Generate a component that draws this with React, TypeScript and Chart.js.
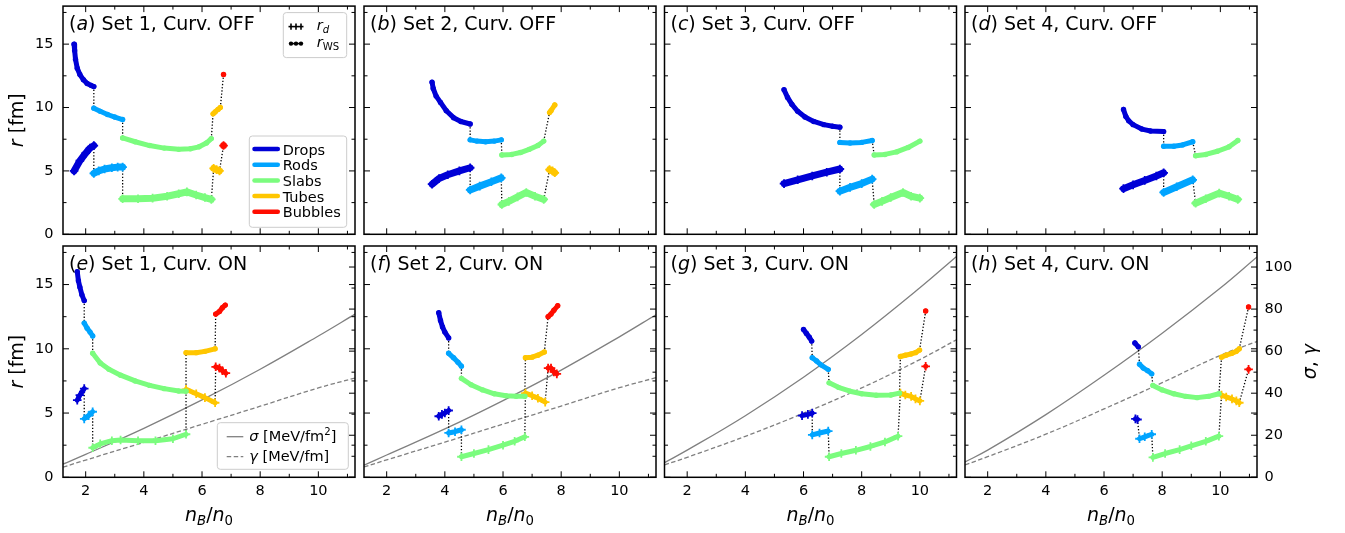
import React, { useEffect, useRef } from 'react';
import { Chart, registerables } from 'chart.js';

Chart.register(...registerables);

type Pt = [number, number];
type Run = { t: string; it?: boolean; sub?: boolean; sup?: boolean };

const W = 1345;
const H = 533;
const FONT = '"DejaVu Sans"';

const PHASES = ['Drops', 'Rods', 'Slabs', 'Tubes', 'Bubbles'];
const PHASE_COLORS = ['#0000d6', '#00a4ff', '#7bfc7e', '#ffc600', '#ff0d00'];

const X_RANGE: Pt = [1.22, 11.26];
const R_RANGE: Pt = [0, 18];
const S_RANGE: Pt = [0, 110];
const X_MAJOR = [2, 4, 6, 8, 10];
const X_MINOR = [3, 5, 7, 9, 11];
const R_MAJOR = [0, 5, 10, 15];
const R_MINOR = [2.5, 7.5, 12.5, 17.5];
const S_MAJOR = [0, 20, 40, 60, 80, 100];
const S_MINOR = [10, 30, 50, 70, 90];

// Radii [fm] vs n_B/n_0, one segment per pasta phase (Drops, Rods, Slabs, Tubes, Bubbles)
// Set 1, curvature off
const A_WS: Pt[][] = [
  [[1.6, 15.0], [1.62, 14.5], [1.65, 13.8], [1.71, 13.1], [1.8, 12.6], [1.92, 12.2], [2.05, 11.9], [2.18, 11.75], [2.28, 11.65]],
  [[2.28, 9.95], [2.5, 9.7], [2.75, 9.45], [3.0, 9.25], [3.27, 9.05]],
  [[3.27, 7.6], [3.7, 7.3], [4.2, 7.0], [4.7, 6.8], [5.2, 6.7], [5.6, 6.75], [5.9, 6.9], [6.15, 7.2], [6.32, 7.55]],
  [[6.38, 9.5], [6.45, 9.65], [6.55, 9.85], [6.63, 10.0]],
  [[6.74, 12.6]],
];
const A_RD: Pt[][] = [
  [[1.6, 5.0], [1.8, 5.8], [2.0, 6.4], [2.15, 6.8], [2.28, 7.0]],
  [[2.28, 4.8], [2.45, 5.0], [2.65, 5.15], [2.9, 5.25], [3.1, 5.3], [3.27, 5.3]],
  [[3.27, 2.8], [3.8, 2.8], [4.3, 2.85], [4.8, 3.0], [5.2, 3.2], [5.48, 3.35], [5.8, 3.1], [6.1, 2.9], [6.32, 2.75]],
  [[6.4, 5.2], [6.5, 5.1], [6.6, 5.0]],
  [[6.74, 7.0]],
];
// Set 2, curvature off
const B_WS: Pt[][] = [
  [[3.56, 12.0], [3.6, 11.5], [3.7, 10.9], [3.85, 10.4], [4.05, 9.75], [4.3, 9.2], [4.55, 8.9], [4.87, 8.7]],
  [[4.87, 7.45], [5.1, 7.35], [5.4, 7.3], [5.7, 7.35], [5.94, 7.45]],
  [[5.96, 6.25], [6.3, 6.3], [6.6, 6.45], [6.9, 6.7], [7.2, 7.0], [7.4, 7.35]],
  [[7.6, 9.6], [7.65, 9.75], [7.78, 10.2]],
];
const B_RD: Pt[][] = [
  [[3.56, 3.95], [3.8, 4.4], [4.1, 4.7], [4.5, 5.0], [4.87, 5.25]],
  [[4.87, 3.5], [5.2, 3.8], [5.6, 4.15], [5.94, 4.45]],
  [[5.96, 2.35], [6.2, 2.6], [6.5, 2.95], [6.8, 3.3], [7.1, 3.0], [7.4, 2.75]],
  [[7.6, 5.1], [7.7, 5.0], [7.78, 4.85]],
];
// Set 3, curvature off
const C_WS: Pt[][] = [
  [[5.33, 11.4], [5.45, 10.8], [5.6, 10.25], [5.8, 9.7], [6.05, 9.25], [6.35, 8.9], [6.7, 8.65], [7.0, 8.52], [7.25, 8.45]],
  [[7.25, 7.25], [7.6, 7.2], [8.0, 7.25], [8.36, 7.4]],
  [[8.43, 6.25], [8.8, 6.3], [9.2, 6.5], [9.6, 6.85], [10.0, 7.35]],
];
const C_RD: Pt[][] = [
  [[5.33, 4.0], [5.8, 4.3], [6.3, 4.6], [6.8, 4.9], [7.25, 5.15]],
  [[7.25, 3.4], [7.6, 3.7], [8.0, 4.0], [8.36, 4.35]],
  [[8.43, 2.35], [8.7, 2.6], [9.0, 2.9], [9.42, 3.3], [9.7, 3.0], [10.0, 2.85]],
];
// Set 4, curvature off
const D_WS: Pt[][] = [
  [[6.67, 9.85], [6.75, 9.3], [6.85, 8.95], [7.0, 8.65], [7.3, 8.3], [7.6, 8.15], [8.05, 8.1]],
  [[8.05, 6.95], [8.4, 6.95], [8.7, 7.05], [9.05, 7.3]],
  [[9.15, 6.2], [9.5, 6.3], [9.9, 6.55], [10.3, 6.9], [10.6, 7.4]],
];
const D_RD: Pt[][] = [
  [[6.67, 3.6], [7.0, 3.9], [7.4, 4.25], [7.8, 4.6], [8.05, 4.85]],
  [[8.05, 3.3], [8.5, 3.75], [9.05, 4.3]],
  [[9.15, 2.45], [9.5, 2.8], [9.96, 3.25], [10.3, 3.0], [10.6, 2.75]],
];
// Set 1, curvature on
const E_WS: Pt[][] = [
  [[1.71, 16.0], [1.75, 15.3], [1.8, 14.8], [1.87, 14.2], [1.95, 13.75]],
  [[1.95, 12.0], [2.05, 11.6], [2.15, 11.3], [2.24, 11.0]],
  [[2.24, 9.65], [2.5, 8.9], [2.8, 8.4], [3.2, 7.95], [3.7, 7.5], [4.2, 7.15], [4.7, 6.9], [5.2, 6.72], [5.45, 6.7]],
  [[5.45, 9.7], [5.8, 9.7], [6.1, 9.8], [6.45, 10.0]],
  [[6.47, 12.7], [6.6, 12.9], [6.7, 13.2], [6.8, 13.4]],
];
const E_RD: Pt[][] = [
  [[1.71, 6.0], [1.8, 6.4], [1.95, 6.9]],
  [[1.95, 4.55], [2.1, 4.8], [2.24, 5.1]],
  [[2.24, 2.3], [2.5, 2.6], [2.9, 2.85], [3.2, 2.9], [3.8, 2.85], [4.4, 2.85], [5.0, 3.0], [5.45, 3.35]],
  [[5.45, 6.85], [5.8, 6.5], [6.1, 6.2], [6.45, 5.8]],
  [[6.47, 8.6], [6.6, 8.5], [6.7, 8.3], [6.82, 8.1]],
];
// Set 2, curvature on
const F_WS: Pt[][] = [
  [[3.79, 12.8], [3.85, 12.2], [3.92, 11.7], [4.0, 11.3], [4.13, 10.85]],
  [[4.13, 9.65], [4.3, 9.3], [4.45, 8.95], [4.57, 8.65]],
  [[4.57, 7.7], [4.9, 7.2], [5.3, 6.8], [5.7, 6.5], [6.1, 6.35], [6.45, 6.3], [6.75, 6.3]],
  [[6.77, 9.3], [7.0, 9.35], [7.2, 9.5], [7.42, 9.75]],
  [[7.55, 12.5], [7.65, 12.7], [7.75, 13.0], [7.88, 13.35]],
];
const F_RD: Pt[][] = [
  [[3.79, 4.75], [3.9, 4.9], [4.0, 5.0], [4.13, 5.2]],
  [[4.13, 3.45], [4.35, 3.55], [4.57, 3.7]],
  [[4.57, 1.6], [5.0, 1.85], [5.5, 2.15], [6.0, 2.5], [6.4, 2.8], [6.75, 3.15]],
  [[6.77, 6.55], [7.0, 6.35], [7.2, 6.15], [7.45, 5.85]],
  [[7.55, 8.5], [7.65, 8.5], [7.75, 8.2], [7.85, 8.05]],
];
// Set 3, curvature on
const G_WS: Pt[][] = [
  [[6.0, 11.5], [6.1, 11.2], [6.2, 10.9], [6.28, 10.6]],
  [[6.3, 9.3], [6.45, 9.05], [6.6, 8.75], [6.85, 8.4]],
  [[6.88, 7.35], [7.2, 7.0], [7.6, 6.7], [8.0, 6.5], [8.5, 6.38], [9.0, 6.4], [9.3, 6.55]],
  [[9.33, 9.4], [9.5, 9.5], [9.7, 9.6], [9.85, 9.7], [9.99, 9.9]],
  [[10.2, 12.94]],
];
const G_RD: Pt[][] = [
  [[5.95, 4.8], [6.15, 4.9], [6.3, 5.0]],
  [[6.3, 3.3], [6.55, 3.45], [6.85, 3.6]],
  [[6.88, 1.6], [7.3, 1.85], [7.8, 2.1], [8.3, 2.4], [8.8, 2.75], [9.25, 3.2]],
  [[9.33, 6.55], [9.5, 6.4], [9.7, 6.3], [9.85, 6.1], [10.0, 5.95]],
  [[10.2, 8.64]],
];
// Set 4, curvature on
const H_WS: Pt[][] = [
  [[7.06, 10.45], [7.18, 10.15]],
  [[7.22, 8.8], [7.35, 8.5], [7.5, 8.3], [7.64, 8.05]],
  [[7.68, 7.15], [8.0, 6.8], [8.4, 6.5], [8.8, 6.3], [9.2, 6.2], [9.6, 6.3], [9.95, 6.5]],
  [[10.04, 9.35], [10.2, 9.5], [10.4, 9.65], [10.55, 9.8], [10.65, 10.0]],
  [[10.97, 13.25]],
];
const H_RD: Pt[][] = [
  [[7.08, 4.55], [7.15, 4.5]],
  [[7.22, 3.0], [7.4, 3.15], [7.64, 3.35]],
  [[7.68, 1.55], [8.1, 1.85], [8.6, 2.15], [9.0, 2.45], [9.5, 2.8], [9.95, 3.2]],
  [[10.04, 6.4], [10.2, 6.25], [10.4, 6.1], [10.55, 5.95], [10.65, 5.8]],
  [[10.97, 8.4]],
];

// Surface tension sigma [MeV/fm^2] and curvature tension gamma [MeV/fm] vs n_B/n_0
const N_GRID = [1.22, 2, 4, 6, 8, 10, 11.26];
const SIGMA_SET1 = [6.3, 10.9, 23.3, 36.8, 51.4, 67.2, 77.6];
const GAMMA_SET1 = [4.8, 8.2, 16.6, 25.2, 33.8, 42.5, 47.2];
const SIGMA_SET2 = [5.8, 10.6, 23.0, 36.5, 51.0, 66.8, 77.3];
const GAMMA_SET2 = [4.9, 8.3, 16.7, 25.3, 33.9, 42.6, 47.4];
const SIGMA_SET3 = [7.0, 12.9, 29.3, 47.6, 67.9, 90.1, 105.0];
const GAMMA_SET3 = [5.9, 9.5, 19.5, 30.5, 42.5, 56.0, 65.4];
const SIGMA_SET4 = [7.3, 12.9, 29.8, 48.5, 68.5, 90.0, 104.8];
const GAMMA_SET4 = [5.9, 9.8, 20.5, 32.5, 45.0, 58.0, 64.6];

type Panel = {
  tag: string;
  set: number;
  on: boolean;
  ws: Pt[][];
  rd: Pt[][];
  sigma?: number[];
  gamma?: number[];
};

const PANELS: Panel[] = [
  { tag: 'a', set: 1, on: false, ws: A_WS, rd: A_RD },
  { tag: 'b', set: 2, on: false, ws: B_WS, rd: B_RD },
  { tag: 'c', set: 3, on: false, ws: C_WS, rd: C_RD },
  { tag: 'd', set: 4, on: false, ws: D_WS, rd: D_RD },
  { tag: 'e', set: 1, on: true, ws: E_WS, rd: E_RD, sigma: SIGMA_SET1, gamma: GAMMA_SET1 },
  { tag: 'f', set: 2, on: true, ws: F_WS, rd: F_RD, sigma: SIGMA_SET2, gamma: GAMMA_SET2 },
  { tag: 'g', set: 3, on: true, ws: G_WS, rd: G_RD, sigma: SIGMA_SET3, gamma: GAMMA_SET3 },
  { tag: 'h', set: 4, on: true, ws: H_WS, rd: H_RD, sigma: SIGMA_SET4, gamma: GAMMA_SET4 },
];

// Figure grid: plot-area edges in page pixels
const COL_LEFT = [63, 364, 664.5, 965];
const PANEL_W = 292;
const ROW_TOP = [3.5, 246];
const ROW_BOTTOM = [234.3, 477.3];

const runFont = (r: Run, size: number) =>
  `${r.it ? 'italic ' : ''}${r.sub || r.sup ? size * 0.7 : size}px ${FONT}`;

function drawRuns(
  ctx: CanvasRenderingContext2D,
  runs: Run[],
  x: number,
  y: number,
  size: number,
  align: 'left' | 'center' | 'right' = 'left'
) {
  ctx.textAlign = 'left';
  ctx.textBaseline = 'alphabetic';
  let total = 0;
  const widths = runs.map((r) => {
    ctx.font = runFont(r, size);
    const w = ctx.measureText(r.t).width;
    total += w;
    return w;
  });
  let cx = align === 'center' ? x - total / 2 : align === 'right' ? x - total : x;
  runs.forEach((r, i) => {
    ctx.font = runFont(r, size);
    const dy = r.sub ? 0.22 * size : r.sup ? -0.42 * size : 0;
    ctx.fillText(r.t, cx, y + dy);
    cx += widths[i];
  });
}

function roundBox(ctx: CanvasRenderingContext2D, x: number, y: number, w: number, h: number) {
  ctx.beginPath();
  ctx.roundRect(x, y, w, h, 3);
  ctx.fillStyle = 'rgba(255,255,255,0.85)';
  ctx.fill();
  ctx.strokeStyle = '#cccccc';
  ctx.lineWidth = 1;
  ctx.stroke();
}

function line(ctx: CanvasRenderingContext2D, x1: number, y1: number, x2: number, y2: number) {
  ctx.beginPath();
  ctx.moveTo(x1, y1);
  ctx.lineTo(x2, y2);
  ctx.stroke();
}

function makeDecor(p: Panel, row: number, col: number) {
  return {
    id: 'decor',
    // axes are fitted with zero thickness so the plot area is fixed; widen their
    // boxes afterwards so the tick labels are not clipped away
    afterLayout(chart: any) {
      const { x, y, y2 } = chart.scales;
      y.left = y.right - 80;
      y.width = 80;
      if (y2) {
        y2.right = y2.left + 80;
        y2.width = 80;
      }
      x.bottom = x.top + 40;
      x.height = 40;
    },
    afterDraw(chart: any) {
      const ctx: CanvasRenderingContext2D = chart.ctx;
      const a = chart.chartArea;
      const xs = chart.scales.x;
      const ys = chart.scales.y;
      const s2 = chart.scales.y2;
      ctx.save();
      ctx.strokeStyle = '#000';
      ctx.fillStyle = '#000';
      ctx.lineWidth = 1;
      ctx.setLineDash([]);
      const MAJ = 6;
      const MIN = 3.5;
      const xTick = (v: number, len: number) => {
        const px = xs.getPixelForValue(v);
        line(ctx, px, a.bottom, px, a.bottom - len);
        line(ctx, px, a.top, px, a.top + len);
      };
      X_MAJOR.forEach((v) => xTick(v, MAJ));
      X_MINOR.forEach((v) => xTick(v, MIN));
      const rTick = (v: number, len: number) => {
        const py = ys.getPixelForValue(v);
        line(ctx, a.left, py, a.left + len, py);
        line(ctx, a.right, py, a.right - len, py);
      };
      R_MAJOR.forEach((v) => rTick(v, MAJ));
      R_MINOR.forEach((v) => rTick(v, MIN));
      if (s2) {
        const sTick = (v: number, len: number) => {
          const py = s2.getPixelForValue(v);
          line(ctx, a.right, py, a.right - len, py);
        };
        S_MAJOR.forEach((v) => sTick(v, MAJ));
        S_MINOR.forEach((v) => sTick(v, MIN));
      }
      ctx.lineWidth = 1.5;
      ctx.strokeRect(a.left, a.top, a.right - a.left, a.bottom - a.top);

      // panel title
      ctx.fillStyle = '#000';
      drawRuns(
        ctx,
        [{ t: '(' }, { t: p.tag, it: true }, { t: `) Set ${p.set}, Curv. ${p.on ? 'ON' : 'OFF'}` }],
        a.left + 6,
        a.top + 23.5,
        19
      );

      // axis titles
      if (col === 0) {
        ctx.save();
        ctx.translate(a.left - 40, (a.top + a.bottom) / 2);
        ctx.rotate(-Math.PI / 2);
        drawRuns(ctx, [{ t: 'r', it: true }, { t: ' [fm]' }], 0, 0, 19, 'center');
        ctx.restore();
      }
      if (row === 1) {
        drawRuns(
          ctx,
          [{ t: 'n', it: true }, { t: 'B', it: true, sub: true }, { t: '/' }, { t: 'n', it: true }, { t: '0', sub: true }],
          (a.left + a.right) / 2,
          a.bottom + 43.7,
          19,
          'center'
        );
      }
      if (row === 1 && col === 3) {
        ctx.save();
        ctx.translate(a.right + 59, (a.top + a.bottom) / 2);
        ctx.rotate(-Math.PI / 2);
        drawRuns(ctx, [{ t: 'σ', it: true }, { t: ', ' }, { t: 'γ', it: true }], 0, 0, 19, 'center');
        ctx.restore();
      }

      // legends
      if (row === 0 && col === 0) {
        roundBox(ctx, a.right - 71.7, a.top + 6.5, 63.4, 45);
        const mx = [a.right - 64, a.right - 59, a.right - 54];
        let cy = a.top + 20.5;
        ctx.strokeStyle = '#000';
        ctx.lineWidth = 1.6;
        line(ctx, mx[0] - 2.5, cy, mx[2] + 2.5, cy);
        mx.forEach((x) => line(ctx, x, cy - 3.2, x, cy + 3.2));
        ctx.fillStyle = '#000';
        drawRuns(ctx, [{ t: 'r', it: true }, { t: 'd', it: true, sub: true }], a.right - 38.3, cy + 3.5, 14.5);
        cy = a.top + 37.5;
        mx.forEach((x) => {
          ctx.beginPath();
          ctx.arc(x, cy, 2.2, 0, Math.PI * 2);
          ctx.fill();
        });
        line(ctx, mx[0], cy, mx[2], cy);
        drawRuns(ctx, [{ t: 'r', it: true }, { t: 'WS', sub: true }], a.right - 38.3, cy + 3.5, 14.5);

        roundBox(ctx, a.right - 105.7, a.bottom - 98.3, 97.4, 91.3);
        PHASES.forEach((name, i) => {
          const y = a.bottom - 85.3 + i * 15.7;
          ctx.strokeStyle = PHASE_COLORS[i];
          ctx.lineWidth = 4.5;
          ctx.lineCap = 'round';
          line(ctx, a.right - 100.5, y, a.right - 77.2, y);
          ctx.lineCap = 'butt';
          ctx.fillStyle = '#000';
          drawRuns(ctx, [{ t: name }], a.right - 72.3, y + 5.5, 14.5);
        });
      }
      if (row === 1 && col === 0) {
        roundBox(ctx, a.right - 137.7, a.bottom - 54.6, 131, 46.6);
        ctx.strokeStyle = '#808080';
        ctx.lineWidth = 1.3;
        let y = a.bottom - 40.6;
        line(ctx, a.right - 128.3, y, a.right - 111.7, y);
        ctx.fillStyle = '#000';
        drawRuns(
          ctx,
          [{ t: 'σ', it: true }, { t: ' [MeV/fm' }, { t: '2', sup: true }, { t: ']' }],
          a.right - 105.7,
          y + 4,
          14.5
        );
        y = a.bottom - 20.6;
        ctx.setLineDash([4.5, 2.5]);
        line(ctx, a.right - 128.3, y, a.right - 111.7, y);
        ctx.setLineDash([]);
        drawRuns(ctx, [{ t: 'γ', it: true }, { t: ' [MeV/fm]' }], a.right - 105.7, y + 4, 14.5);
      }
      ctx.restore();
    },
  };
}

function buildDatasets(p: Panel) {
  const ds: any[] = [];
  const addSeries = (segs: Pt[][], kind: 'ws' | 'rd') => {
    segs.forEach((seg, i) => {
      const color = PHASE_COLORS[i];
      ds.push({
        label: `${PHASES[i]} ${kind === 'ws' ? 'r_WS' : 'r_d'}`,
        data: seg.map(([x, y]) => ({ x, y })),
        showLine: true,
        borderColor: color,
        backgroundColor: color,
        borderWidth: kind === 'ws' ? 5 : p.on ? 5 : 7,
        borderCapStyle: 'round',
        borderJoinStyle: 'round',
        pointStyle: kind === 'ws' ? 'circle' : 'cross',
        pointRadius: kind === 'ws' ? 2.7 : 4.3,
        pointBorderWidth: kind === 'ws' ? 0 : 1.8,
        pointBorderColor: color,
        pointBackgroundColor: color,
        yAxisID: 'y',
        order: 0,
      });
      if (i > 0) {
        const prev = segs[i - 1][segs[i - 1].length - 1];
        const first = seg[0];
        ds.push({
          label: 'transition',
          data: [
            { x: prev[0], y: prev[1] },
            { x: first[0], y: first[1] },
          ],
          showLine: true,
          borderColor: '#000',
          borderWidth: 1.3,
          borderDash: [1.3, 1.9],
          pointRadius: 0,
          yAxisID: 'y',
          order: 5,
        });
      }
    });
  };
  addSeries(p.ws, 'ws');
  addSeries(p.rd, 'rd');
  if (p.sigma && p.gamma) {
    ds.push({
      label: 'sigma',
      data: N_GRID.map((x, i) => ({ x, y: p.sigma![i] })),
      showLine: true,
      borderColor: '#808080',
      borderWidth: 1.3,
      pointRadius: 0,
      tension: 0.4,
      yAxisID: 'y2',
      order: 10,
    });
    ds.push({
      label: 'gamma',
      data: N_GRID.map((x, i) => ({ x, y: p.gamma![i] })),
      showLine: true,
      borderColor: '#808080',
      borderWidth: 1.3,
      borderDash: [4.5, 2.5],
      pointRadius: 0,
      tension: 0.4,
      yAxisID: 'y2',
      order: 10,
    });
  }
  return ds;
}

const zeroFit = (s: any) => {
  if (s.isHorizontal()) s.height = 0;
  else s.width = 0;
  s.paddingTop = 0;
  s.paddingBottom = 0;
  s.paddingLeft = 0;
  s.paddingRight = 0;
};

const tickFont = { family: 'DejaVu Sans', size: 14.5 };

function buildConfig(p: Panel, idx: number): any {
  const row = idx < 4 ? 0 : 1;
  const col = idx % 4;
  const left = COL_LEFT[col];
  const right = left + PANEL_W;
  const top = ROW_TOP[row];
  const bottom = ROW_BOTTOM[row];
  const scales: any = {
    x: {
      type: 'linear',
      min: X_RANGE[0],
      max: X_RANGE[1],
      grid: { display: false, drawTicks: false },
      border: { display: false },
      ticks: { display: row === 1, padding: 5, font: tickFont, color: '#000', maxRotation: 0 },
      afterBuildTicks: (s: any) => {
        s.ticks = X_MAJOR.map((v) => ({ value: v }));
      },
      afterFit: zeroFit,
    },
    y: {
      type: 'linear',
      position: 'left',
      min: R_RANGE[0],
      max: R_RANGE[1],
      grid: { display: false, drawTicks: false },
      border: { display: false },
      ticks: { display: col === 0, padding: 9.5, font: tickFont, color: '#000' },
      afterBuildTicks: (s: any) => {
        s.ticks = R_MAJOR.map((v) => ({ value: v }));
      },
      afterFit: zeroFit,
    },
  };
  if (p.sigma) {
    scales.y2 = {
      type: 'linear',
      position: 'right',
      min: S_RANGE[0],
      max: S_RANGE[1],
      grid: { display: false, drawTicks: false },
      border: { display: false },
      ticks: { display: col === 3, padding: 7.5, font: tickFont, color: '#000' },
      afterBuildTicks: (s: any) => {
        s.ticks = S_MAJOR.map((v) => ({ value: v }));
      },
      afterFit: zeroFit,
    };
  }
  return {
    type: 'scatter',
    data: { datasets: buildDatasets(p) },
    options: {
      responsive: false,
      animation: false,
      devicePixelRatio: 1,
      events: [],
      layout: { padding: { left, top, right: W - right, bottom: H - bottom } },
      plugins: { legend: { display: false }, tooltip: { enabled: false } },
      scales,
    },
    plugins: [makeDecor(p, row, col)],
  };
}

export default function App() {
  const refs = useRef<(HTMLCanvasElement | null)[]>([]);
  useEffect(() => {
    const charts = PANELS.map((p, i) => new Chart(refs.current[i] as HTMLCanvasElement, buildConfig(p, i)));
    return () => charts.forEach((c) => c.destroy());
  }, []);
  return (
    <div style={{ position: 'absolute', left: 0, top: 0, width: W, height: H, background: '#fff' }}>
      {PANELS.map((p, i) => (
        <canvas
          key={p.tag}
          ref={(el) => {
            refs.current[i] = el;
          }}
          width={W}
          height={H}
          style={{ position: 'absolute', left: 0, top: 0, width: W, height: H }}
        />
      ))}
    </div>
  );
}
